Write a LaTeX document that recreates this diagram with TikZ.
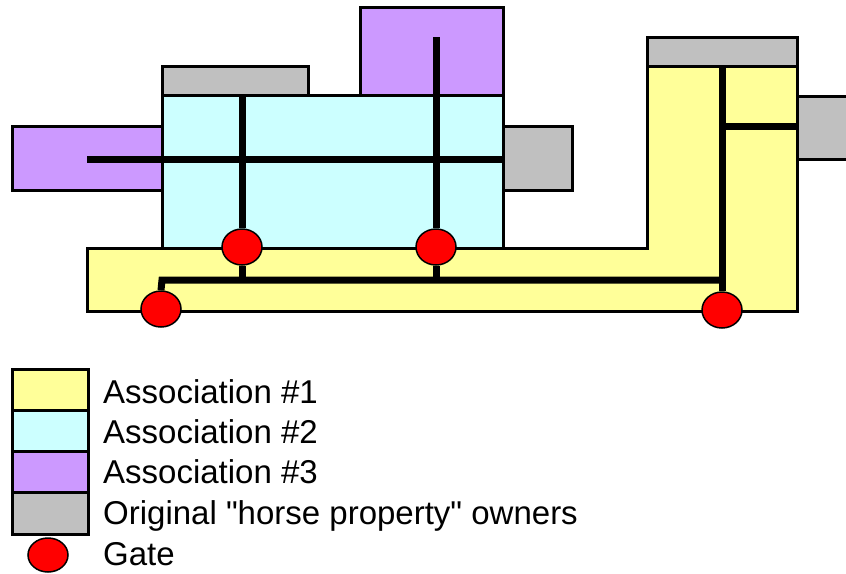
\documentclass[tikz,border=0pt]{standalone}
\usepackage{fontspec}
\setmainfont{Liberation Sans}[Ligatures=TeXOff]
\usetikzlibrary{shapes.geometric}
\definecolor{assocA}{HTML}{FFFF99}
\definecolor{assocB}{HTML}{CCFFFF}
\definecolor{assocC}{HTML}{CC99FF}
\definecolor{owner}{HTML}{C0C0C0}
\definecolor{gatered}{HTML}{FF0000}
\tikzset{
  lot/.style={draw=black, line width=3pt},
  road/.style={draw=black, line width=7pt},
  gate/.style={ellipse, draw=black, line width=1.5pt, fill=gatered, minimum width=40pt, minimum height=36pt, inner sep=0pt},
  legtext/.style={anchor=base west, inner sep=0pt, font=\fontsize{33}{39}\selectfont}
}
\begin{document}
\begin{tikzpicture}[x=1pt,y=-1pt]
\useasboundingbox (0,0) rectangle (846,573);
\clip (0,0) rectangle (846,573);
% lots
\path[lot, fill=owner] (797,96) rectangle (870,159);
\path[lot, fill=assocA] (87,248) -- (647,248) -- (647,66) -- (797,66) -- (797,311) -- (87,311) -- cycle;
\path[lot, fill=owner] (647,37) rectangle (797,66);
\path[lot, fill=owner] (503,126) rectangle (572,190);
\path[lot, fill=assocC] (12,126) rectangle (162,190);
\path[lot, fill=owner] (162,66) rectangle (308,95);
\path[lot, fill=assocC] (360,7) rectangle (503,95);
\path[lot, fill=assocB] (162,95) rectangle (503,248);
% road points
\coordinate (hL) at (87,159);
\coordinate (hR) at (503,159);
\coordinate (v1t) at (242,95);
\coordinate (v1b) at (242,280);
\coordinate (v2t) at (436,37);
\coordinate (v2b) at (436,280);
\coordinate (bL) at (162,280);
\coordinate (bR) at (722,280);
\coordinate (rT) at (722,66);
\coordinate (brL) at (722,126);
\coordinate (brR) at (797,126);
% gates
\node[gate] (g1) at (242,247) {};
\node[gate] (g2) at (436,247) {};
\node[gate] (g3) at (161,309) {};
\node[gate] (g4) at (722,310) {};
% roads
\draw[road] (hL) -- (hR);
\draw[road] (v1t) -- (g1.north);
\draw[road] (g1.south) -- (v1b);
\draw[road] (v2t) -- (g2.north);
\draw[road] (g2.south) -- (v2b);
\draw[road, line join=miter] (g3.north) -- (bL) -- (bR);
\draw[road] (rT) -- (g4.north);
\draw[road] (brL) -- (brR);
% legend
\path[lot, fill=assocA] (12,369) rectangle (88,410);
\path[lot, fill=assocB] (12,410) rectangle (88,451);
\path[lot, fill=assocC] (12,451) rectangle (88,492);
\path[lot, fill=owner] (12,492) rectangle (88,534);
\node[gate, minimum width=40pt, minimum height=34pt] (lg) at (48,555) {};
\node[legtext] (t1) at (103,403) {Association \#1};
\node[legtext] (t2) at (103,443) {Association \#2};
\node[legtext] (t3) at (103,483) {Association \#3};
\node[legtext] (t4) at (103,524) {Original "horse property" owners};
\node[legtext] (t5) at (103,565) {Gate};
\end{tikzpicture}
\end{document}
